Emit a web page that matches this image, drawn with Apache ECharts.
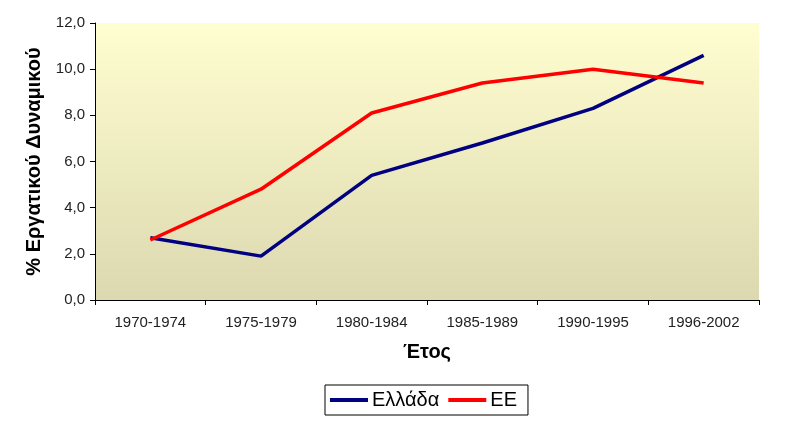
<!DOCTYPE html>
<html><head><meta charset="utf-8">
<script src="https://cdn.jsdelivr.net/npm/echarts@6/dist/echarts.min.js"></script>
<style>html,body{margin:0;padding:0;background:#fff}#c{width:794px;height:433px}</style>
</head><body><div id="c"></div>
<script>
const categories = ['1970-1974','1975-1979','1980-1984','1985-1989','1990-1995','1996-2002'];
const ellada = [2.7, 1.9, 5.4, 6.8, 8.3, 10.6];
const ee = [2.6, 4.8, 8.1, 9.4, 10.0, 9.4];
const yTicks = [0, 2, 4, 6, 8, 10, 12];

const chart = echarts.init(document.getElementById('c'), null, {renderer:'canvas'});
const font = 'Liberation Sans, Arial, sans-serif';
chart.setOption({
  animation: false,
  backgroundColor: '#ffffff',
  grid: {
    left: 95, right: 35, top: 23, bottom: 133,
    show: true, borderWidth: 0,
    backgroundColor: {type:'linear', x:0, y:0, x2:0, y2:1,
      colorStops:[{offset:0,color:'#FFFED0'},{offset:1,color:'#DCD8B0'}]}
  },
  legend: {
    data: ['Ελλάδα','ΕΕ'],
    left: 325, top: 385, orient: 'horizontal',
    borderColor: '#000', borderWidth: 1, padding: [5, 11, 5, 5],
    itemGap: 9, itemWidth: 38, itemHeight: 4, icon: 'rect',
    textStyle: {fontFamily: font, fontSize: 20, color:'#000', padding:[0,0,0,-1]}
  },
  xAxis: {
    type: 'category', data: categories, boundaryGap: true,
    name: 'Έτος', nameLocation: 'middle', nameGap: 42,
    nameTextStyle: {fontFamily: font, fontSize: 20, fontWeight: 'bold', color:'#000'},
    axisLine: {lineStyle: {color:'#000', width:1}},
    axisTick: {show:true, interval:0, length:5, lineStyle:{color:'#000'}},
    axisLabel: {interval:0, fontFamily: font, fontSize: 15, color:'#222', margin: 15},
    splitLine: {show:false}
  },
  yAxis: {
    type: 'value', min: yTicks[0], max: yTicks[yTicks.length-1], interval: 2,
    name: '% Εργατικού Δυναμικού', nameLocation: 'middle', nameGap: 51, nameRotate: 90,
    nameTextStyle: {fontFamily: font, fontSize: 20, fontWeight: 'bold', color:'#000'},
    axisLine: {show:true, lineStyle: {color:'#000', width:1}},
    axisTick: {show:true, length:5, lineStyle:{color:'#000'}},
    axisLabel: {fontFamily: font, fontSize: 15, color:'#222', margin: 10,
      formatter: v => v.toFixed(1).replace('.', ',')},
    splitLine: {show:false}
  },
  series: [
    {name:'Ελλάδα', type:'line', data: ellada, symbol:'none',
     lineStyle:{color:'#000080', width:3.5}, itemStyle:{color:'#000080'}},
    {name:'ΕΕ', type:'line', data: ee, symbol:'none',
     lineStyle:{color:'#FF0000', width:3.5}, itemStyle:{color:'#FF0000'}}
  ]
});
</script></body></html>
